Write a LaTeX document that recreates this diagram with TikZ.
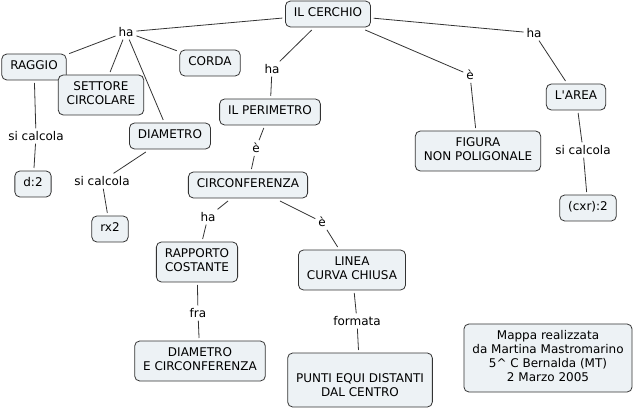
\documentclass[tikz,border=0pt]{standalone}
\usepackage{fontspec}
\setmainfont{DejaVu Sans}
\newfontfamily\dvfont{DejaVu Sans}
\usetikzlibrary{positioning}
\definecolor{boxfill}{HTML}{EDF2F5}
\definecolor{boxline}{HTML}{333333}
\definecolor{linkcol}{HTML}{333333}
\newcommand{\mystr}{\strut}
\tikzset{
  concept/.style={draw=boxline, fill=boxfill, rounded corners=5pt, line width=0.8pt,
    inner xsep=8.5pt, inner ysep=6pt, align=center, outer sep=3pt,
    font=\dvfont\fontsize{12}{14}\selectfont},
  lbl/.style={inner sep=2pt, outer sep=1pt, font=\dvfont\fontsize{12}{14}\selectfont},
  conn/.style={draw=linkcol, line width=0.8pt}
}
\begin{document}
\begin{tikzpicture}[x=1pt,y=-1pt]
\useasboundingbox (0,0) rectangle (634,411);
% concepts
\node[concept] (cerchio) at (328,14) {\mystr IL CERCHIO};
\node[concept] (raggio) at (34,67) {\mystr RAGGIO};
\node[concept] (settore) at (101,95) {\mystr SETTORE\\\mystr CIRCOLARE};
\node[concept] (corda) at (210,63) {\mystr CORDA};
\node[concept] (diametro) at (170,136) {\mystr DIAMETRO};
\node[concept] (perimetro) at (270,112) {\mystr IL PERIMETRO};
\node[concept] (circ) at (248,185) {\mystr CIRCONFERENZA};
\node[concept] (figura) at (478,151) {\mystr FIGURA\\\mystr NON POLIGONALE};
\node[concept] (area) at (576,97) {\mystr L'AREA};
\node[concept] (cxr) at (588,208) {\mystr (cxr):2};
\node[concept] (d2) at (33,184) {\mystr d:2};
\node[concept] (rx2) at (110,229) {\mystr rx2};
\node[concept] (rapporto) at (197,262) {\mystr RAPPORTO\\\mystr COSTANTE};
\node[concept] (dec) at (200,361) {\mystr DIAMETRO\\\mystr E CIRCONFERENZA};
\node[concept] (linea) at (352,270) {\mystr LINEA\\\mystr CURVA CHIUSA};
\node[concept] (punti) at (360,380) {\mystr \\\mystr PUNTI EQUI DISTANTI\\\mystr DAL CENTRO};
\node[concept] (mappa) at (548,358) {\mystr Mappa realizzata\\\mystr da Martina Mastromarino\\\mystr 5\^{} C Bernalda (MT)\\\mystr 2 Marzo 2005};
% linking phrases
\node[lbl] (ha1) at (126,32) {ha};
\node[lbl] (ha2) at (272,69) {ha};
\node[lbl] (e1) at (470,75) {è};
\node[lbl] (ha3) at (534,33) {ha};
\node[lbl] (sc3) at (583,150) {si calcola};
\node[lbl] (sc1) at (36,136) {si calcola};
\node[lbl] (sc2) at (102,181) {si calcola};
\node[lbl] (e2) at (256,148) {è};
\node[lbl] (ha4) at (208,217) {ha};
\node[lbl] (fra) at (198,313) {fra};
\node[lbl] (e3) at (322,222) {è};
\node[lbl] (form) at (357,321) {formata};
% connectors
\draw[conn] (cerchio) -- (ha1);
\draw[conn] (ha1) -- (raggio);
\draw[conn] (ha1) -- (settore);
\draw[conn] (ha1) -- (corda);
\draw[conn] (ha1) -- (diametro);
\draw[conn] (cerchio) -- (ha2);
\draw[conn] (ha2) -- (perimetro);
\draw[conn] (cerchio) -- (e1);
\draw[conn] (e1) -- (figura);
\draw[conn] (cerchio) -- (ha3);
\draw[conn] (ha3) -- (area);
\draw[conn] (area) -- (sc3);
\draw[conn] (sc3) -- (cxr);
\draw[conn] (raggio) -- (sc1);
\draw[conn] (sc1) -- (d2);
\draw[conn] (diametro) -- (sc2);
\draw[conn] (sc2) -- (rx2);
\draw[conn] (perimetro) -- (e2);
\draw[conn] (e2) -- (circ);
\draw[conn] (circ) -- (ha4);
\draw[conn] (ha4) -- (rapporto);
\draw[conn] (rapporto) -- (fra);
\draw[conn] (fra) -- (dec);
\draw[conn] (circ) -- (e3);
\draw[conn] (e3) -- (linea);
\draw[conn] (linea) -- (form);
\draw[conn] (form) -- (punti);
\end{tikzpicture}
\end{document}
